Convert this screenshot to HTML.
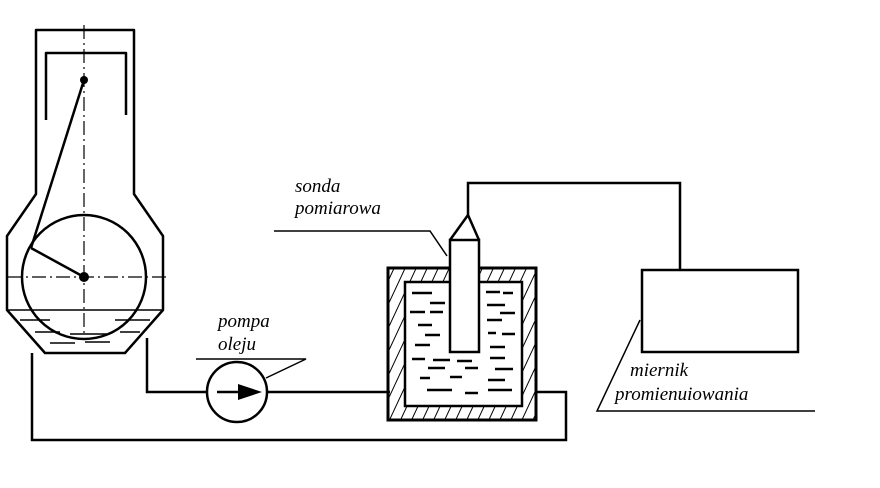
<!DOCTYPE html>
<html><head><meta charset="utf-8"><style>
html,body{margin:0;padding:0;background:#fff}
svg{display:block}
text{font-family:"Liberation Serif",serif;font-style:italic;font-size:19px;fill:#000}
</style></head><body>
<svg width="880" height="488" viewBox="0 0 880 488" xmlns="http://www.w3.org/2000/svg">
<defs>
<pattern id="h" width="10" height="10" patternUnits="userSpaceOnUse" patternTransform="rotate(25)">
<line x1="0" y1="0" x2="0" y2="10" stroke="#000" stroke-width="2"/>
</pattern>
</defs>
<g fill="none" stroke="#000" stroke-width="2.5" stroke-linejoin="round">
<path d="M36,30 L134,30 L134,194 L163,236 L163,310 L125,353 L45,353 L7,310 L7,236 L36,194 Z"/>
<path d="M46,120 L46,53 L126,53 L126,115"/>
<circle cx="84" cy="277" r="62"/>
<line x1="84" y1="80" x2="31" y2="248"/>
<line x1="31" y1="248" x2="84" y2="277"/>
<line x1="7" y1="310" x2="163" y2="310" stroke-width="1.5"/>
</g>
<g stroke="#000" stroke-width="1.2" stroke-dasharray="14,4,2,4" fill="none">
<line x1="84" y1="25" x2="84" y2="335"/>
<line x1="8" y1="277" x2="168" y2="277"/>
</g>
<circle cx="84" cy="80" r="4"/>
<circle cx="84" cy="277" r="5"/>
<g stroke="#000" stroke-width="1.5">
<line x1="20" y1="320" x2="50" y2="320"/><line x1="115" y1="320" x2="150" y2="320"/>
<line x1="35" y1="332" x2="60" y2="332"/><line x1="70" y1="334" x2="110" y2="334"/><line x1="120" y1="332" x2="140" y2="332"/>
<line x1="50" y1="343" x2="75" y2="343"/><line x1="85" y1="342" x2="110" y2="342"/>
</g>
<g fill="none" stroke="#000" stroke-width="2.5">
<path d="M32,353 L32,440 L566,440 L566,392 L536,392"/>
<path d="M147,338 L147,392 L207,392"/>
<path d="M267,392 L390,392"/>
<circle cx="237" cy="392" r="30"/>
<line x1="217" y1="392" x2="240" y2="392"/>
</g>
<polygon points="238,384 262,392 238,400" fill="#000"/>
<path d="M388,268 H536 V420 H388 Z M405,282 V406 H522 V282 H479 V268 H450 V282 Z" fill="url(#h)" fill-rule="evenodd" stroke="none"/>
<rect x="388" y="268" width="148" height="152" fill="none" stroke="#000" stroke-width="3"/>
<path d="M450,282 H405 V406 H522 V282 H479" fill="none" stroke="#000" stroke-width="2.5"/>
<rect x="450" y="240" width="29" height="112" fill="#fff" stroke="#000" stroke-width="2.5"/>
<g stroke="#000" stroke-width="2.5">
<line x1="412" y1="293" x2="432" y2="293"/><line x1="486" y1="292" x2="500" y2="292"/><line x1="503" y1="293" x2="513" y2="293"/>
<line x1="430" y1="303" x2="445" y2="303"/><line x1="487" y1="305" x2="505" y2="305"/>
<line x1="410" y1="312" x2="425" y2="312"/><line x1="430" y1="312" x2="443" y2="312"/><line x1="500" y1="313" x2="515" y2="313"/>
<line x1="418" y1="325" x2="432" y2="325"/><line x1="487" y1="320" x2="502" y2="320"/>
<line x1="425" y1="335" x2="440" y2="335"/><line x1="488" y1="333" x2="496" y2="333"/><line x1="502" y1="334" x2="515" y2="334"/>
<line x1="415" y1="345" x2="430" y2="345"/><line x1="490" y1="347" x2="505" y2="347"/>
<line x1="412" y1="359" x2="425" y2="359"/><line x1="433" y1="360" x2="450" y2="360"/><line x1="457" y1="361" x2="472" y2="361"/><line x1="490" y1="358" x2="505" y2="358"/>
<line x1="428" y1="368" x2="445" y2="368"/><line x1="465" y1="368" x2="478" y2="368"/><line x1="495" y1="369" x2="513" y2="369"/>
<line x1="420" y1="378" x2="430" y2="378"/><line x1="450" y1="377" x2="462" y2="377"/><line x1="488" y1="380" x2="505" y2="380"/>
<line x1="427" y1="390" x2="452" y2="390"/><line x1="465" y1="393" x2="478" y2="393"/><line x1="488" y1="390" x2="512" y2="390"/>
</g>
<g fill="none" stroke="#000" stroke-width="2.5">
<path d="M450,240 L468,215 L479,240"/>
<path d="M468,215 V183 H680 V270"/>
<rect x="642" y="270" width="156" height="82"/>
</g>
<g fill="none" stroke="#000" stroke-width="1.5">
<path d="M274,231 H430 L447,256"/>
<path d="M196,359 H306 L266,378"/>
<path d="M640,320 L597,411 H815"/>
</g>
<text x="295" y="192">sonda</text>
<text x="295" y="214">pomiarowa</text>
<text x="218" y="327">pompa</text>
<text x="218" y="350">oleju</text>
<text x="630" y="376">miernik</text>
<text x="615" y="400">promienuiowania</text>
</svg>
</body></html>
